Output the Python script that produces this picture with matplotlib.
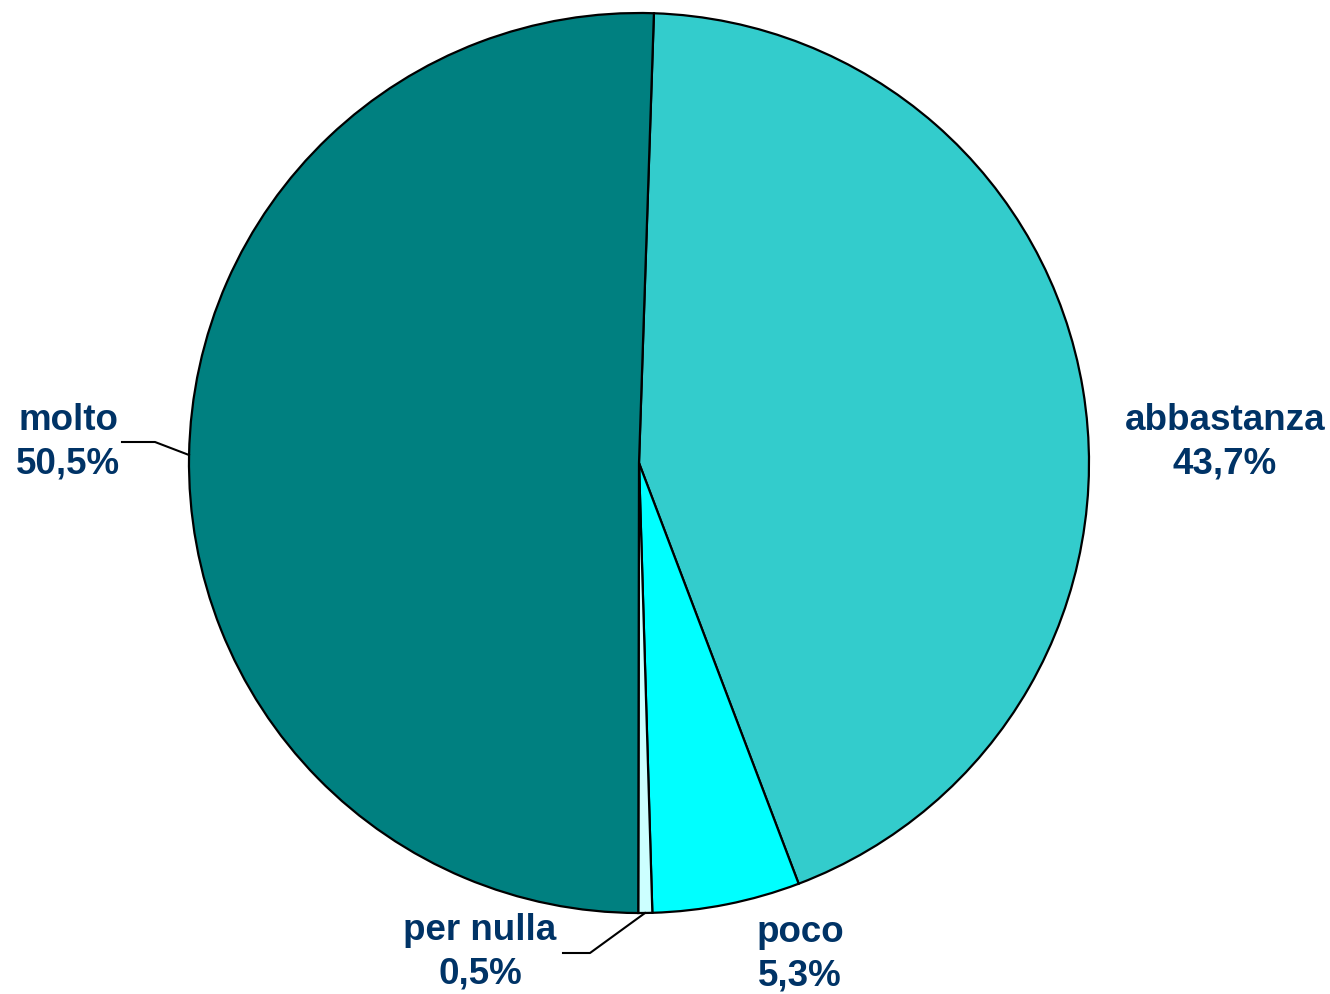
import matplotlib.pyplot as plt

# dati
labels = ['abbastanza', 'poco', 'per nulla', 'molto']
values = [43.7, 5.3, 0.5, 50.5]
colors = ['#33CCCC', '#00FFFF', '#CCFFFF', '#008080']
label_text = ['abbastanza\n43,7%', 'poco\n5,3%', 'per nulla\n0,5%', 'molto\n50,5%']

plt.rcParams['font.family'] = ['Liberation Sans', 'DejaVu Sans']

fig = plt.figure(figsize=(13.3, 9.94), dpi=100)
ax = fig.add_axes([0, 0, 1, 1])

H = 994
cx, cy, r = 639, H - 463, 450

ax.pie(values, colors=colors, startangle=88.1, counterclock=False,
       center=(cx, cy), radius=r, frame=True,
       wedgeprops=dict(edgecolor='black', linewidth=1.6))

ax.set_xlim(0, 1330)
ax.set_ylim(0, H)
ax.set_aspect('equal')
ax.axis('off')

# posizioni etichette (pixel)
pos = [(1225, 442), (800, 954), (480, 952), (68, 442)]
for txt, (px, py) in zip(label_text, pos):
    ax.text(px, H - py, txt, ha='center', va='center', fontsize=26.5,
            fontweight='bold', color='#003366', linespacing=1.32)

# linee guida
ax.plot([122, 155, 189], [H - 442, H - 442, H - 455], color='black', lw=1.5)
ax.plot([563, 590, 645], [H - 953, H - 953, H - 913], color='black', lw=1.5)

fig.savefig('out.png', dpi=100)
